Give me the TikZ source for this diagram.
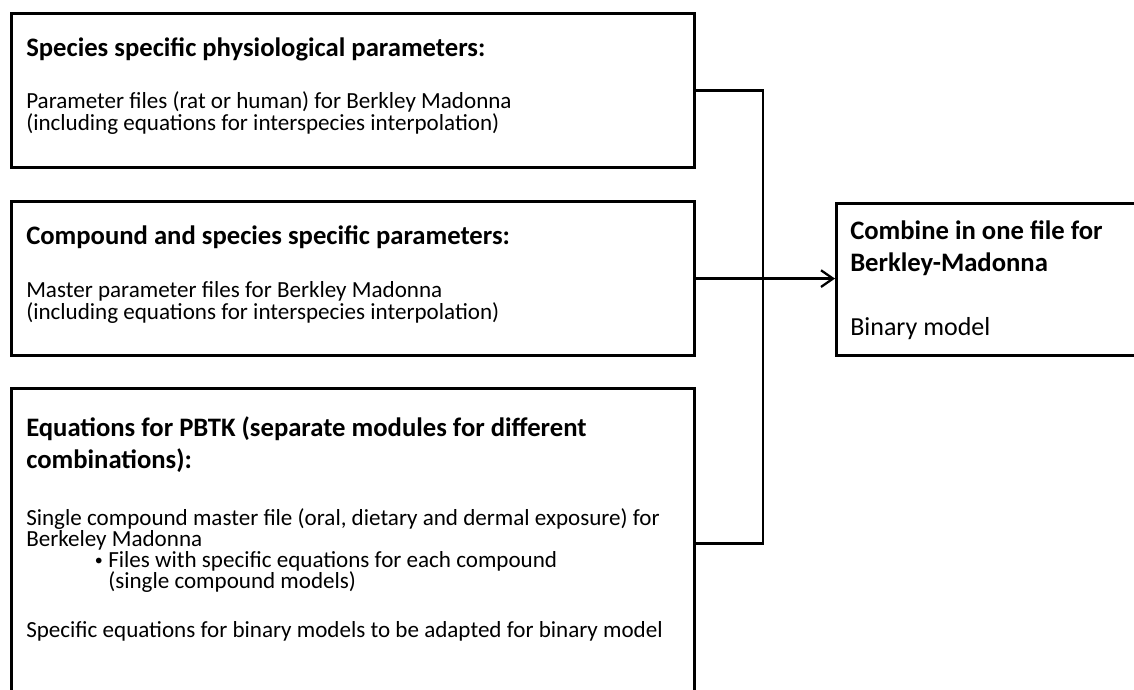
\documentclass[tikz,border=0pt]{standalone}
\usepackage{fontspec}
\setmainfont{Carlito}
\usetikzlibrary{arrows.meta,positioning}
\lineskiplimit=-30pt

\begin{document}
\begin{tikzpicture}[x=0.75pt,y=-0.75pt,
		box/.style={draw,line width=2.4pt,rectangle,anchor=north west,inner sep=0pt},
		head/.style={anchor=base west,inner sep=0pt,align=left,
			font=\fontsize{20}{23.3}\selectfont\bfseries},
		body/.style={anchor=base west,inner sep=0pt,align=left,
			font=\fontsize{17.3}{16.5}\selectfont},
		link/.style={line width=1.7pt}]
		\useasboundingbox (0,0) rectangle (1134,689);
		% the three source boxes and the target box
		\node (phys) [box,minimum width=512.25pt,minimum height=115.5pt] at (10,12) {};
		\node (comp) [box,minimum width=512.25pt,minimum height=115.5pt] at (10,200) {};
		\node (pbtk) [box,minimum width=512.25pt,minimum height=232.5pt] at (10,387) {};
		\node (comb) [box,minimum width=247.5pt,minimum height=114pt] at (835,202) {};
		% texts (base = baseline of the last line)
		\node (physh) [head] at (26,56) {Species specific physiological parameters:};
		\node (physb) [body] at (26,130) {Parameter files (rat or human) for Berkley Madonna\\
			(including equations for interspecies interpolation)};
		\node (comph) [head] at (26,244) {Compound and species specific parameters:};
		\node (compb) [body] at (26,319) {Master parameter files for Berkley Madonna\\
			(including equations for interspecies interpolation)};
		\node (pbtkh) [head] at (26,468) {Equations for PBTK (separate modules for different\\
			combinations):};
		\node (pbtkb) [body,font=\fontsize{17.3}{15.75}\selectfont] at (26,637) {Single compound master file (oral, dietary and dermal exposure) for\\
			Berkeley Madonna\\
			\hspace*{61.5pt}\llap{\raisebox{1pt}{\fontsize{12}{12}\selectfont•}\hspace{4pt}}Files with specific equations for each compound\\
			\hspace*{61.5pt}(single compound models)\\[21pt]
			Specific equations for binary models to be adapted for binary model};
		\node (combh) [head] at (850,271) {Combine in one file for\\
			Berkley-Madonna};
		\node (combb) [body,font=\fontsize{19.5}{23}\selectfont] at (850,335) {Binary model};
		% connectors
		\coordinate (bus) at (763,0);
		\draw[link] (phys.east) -- (phys.east -| bus) -- (pbtk.east -| bus) -- (pbtk.east);
		\draw[link,-{Straight Barb[length=9pt,width=12.5pt]}] (comp.east) -- (comp.east -| comb.west);
\end{tikzpicture}
\end{document}
